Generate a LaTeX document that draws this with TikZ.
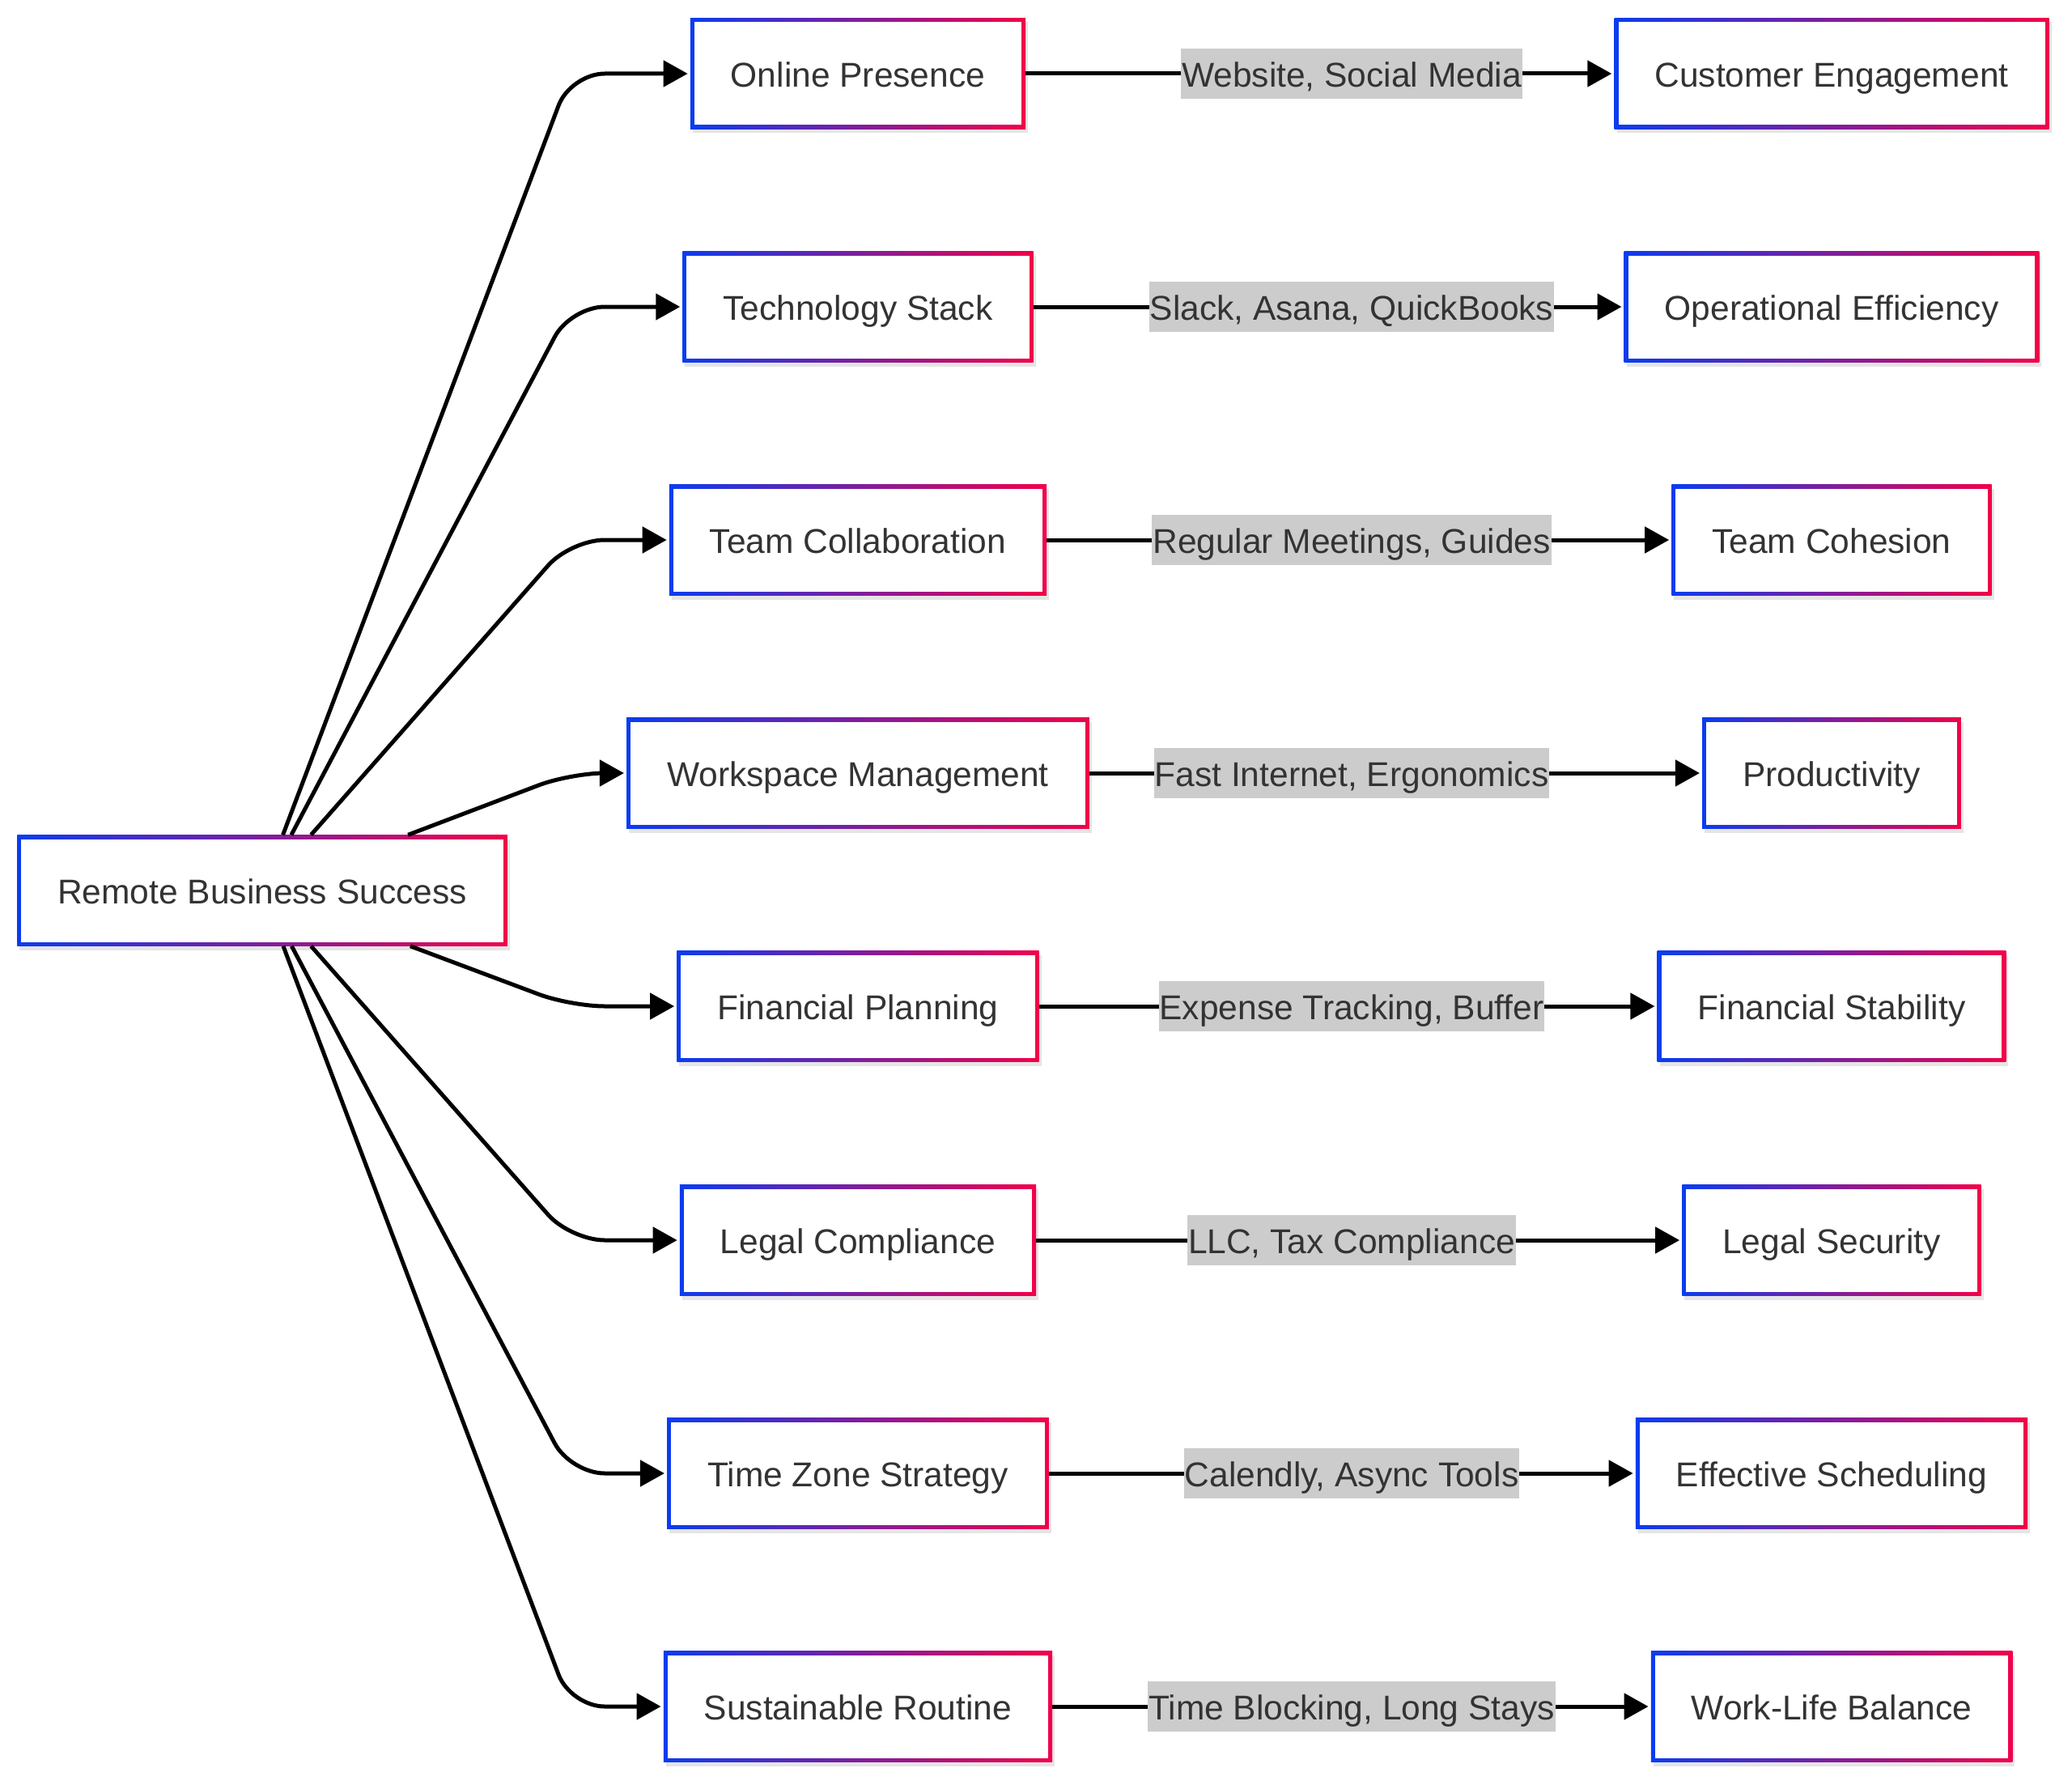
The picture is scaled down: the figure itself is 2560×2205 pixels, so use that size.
\documentclass[tikz,border=0pt]{standalone}
\usepackage{fontspec}
\setmainfont{Liberation Sans}
\usetikzlibrary{arrows.meta,shadows}
\definecolor{gblue}{HTML}{0A3CF0}
\definecolor{gred}{HTML}{F2004A}
\definecolor{txt}{HTML}{333333}
\definecolor{lblbg}{HTML}{CCCCCC}
\tikzset{
  gbox/.style={rectangle, minimum height=137pt, inner xsep=50pt, inner ysep=0pt,
    text height=40pt, text depth=7pt,
    text=txt, font=\fontsize{42.5}{50}\selectfont,
    left color=gblue, right color=gred,
    drop shadow={shadow xshift=3pt, shadow yshift=-5pt, opacity=0.10, fill=black},
    path picture={\fill[white] ([xshift=5pt,yshift=-5pt]path picture bounding box.north west)
      rectangle ([xshift=-5pt,yshift=5pt]path picture bounding box.south east);}},
  lbl/.style={rectangle, fill=lblbg, text=txt, font=\fontsize{42.5}{50}\selectfont,
    text height=40pt, text depth=7pt,
    inner xsep=1pt, inner ysep=0pt, minimum height=62pt},
  conn/.style={line width=5pt, draw=black, -{Triangle[length=30pt,width=32pt]}, shorten >=3pt},
  fan/.style={conn, rounded corners=42pt}
}
\begin{document}
\begin{tikzpicture}[x=1pt,y=-1pt]
\useasboundingbox (0,0) rectangle (2560,2205);
% root
\node[gbox] (root) at (324,1100) {Remote Business Success};
% middle column
\node[gbox] (m1) at (1060,91)   {Online Presence};
\node[gbox] (m2) at (1060,379)  {Technology Stack};
\node[gbox] (m3) at (1060,667)  {Team Collaboration};
\node[gbox] (m4) at (1060,955)  {Workspace Management};
\node[gbox] (m5) at (1060,1243) {Financial Planning};
\node[gbox] (m6) at (1060,1532) {Legal Compliance};
\node[gbox] (m7) at (1060,1820) {Time Zone Strategy};
\node[gbox] (m8) at (1060,2108) {Sustainable Routine};
% right column
\node[gbox] (r1) at (2263,91)   {Customer Engagement};
\node[gbox] (r2) at (2263,379)  {Operational Efficiency};
\node[gbox] (r3) at (2263,667)  {Team Cohesion};
\node[gbox] (r4) at (2263,955)  {Productivity};
\node[gbox] (r5) at (2263,1243) {Financial Stability};
\node[gbox] (r6) at (2263,1532) {Legal Security};
\node[gbox] (r7) at (2263,1820) {Effective Scheduling};
\node[gbox] (r8) at (2263,2108) {Work-Life Balance};
% corner points of the fan
\coordinate (c1) at (705,91);
\coordinate (c2) at (705,379);
\coordinate (c3) at (705,667);
\coordinate (c4) at (705,955);
\coordinate (c5) at (705,1243);
\coordinate (c6) at (705,1532);
\coordinate (c7) at (705,1820);
\coordinate (c8) at (705,2108);
\draw[fan] (root) -- (c1) -- (m1.west);
\draw[fan] (root) -- (c2) -- (m2.west);
\draw[fan] (root) -- (c3) -- (m3.west);
\draw[fan] (root) -- (c4) -- (m4.west);
\draw[fan] (root) -- (c5) -- (m5.west);
\draw[fan] (root) -- (c6) -- (m6.west);
\draw[fan] (root) -- (c7) -- (m7.west);
\draw[fan] (root) -- (c8) -- (m8.west);
% middle to right
\draw[conn] (m1.east) -- (r1.west);
\draw[conn] (m2.east) -- (r2.west);
\draw[conn] (m3.east) -- (r3.west);
\draw[conn] (m4.east) -- (r4.west);
\draw[conn] (m5.east) -- (r5.west);
\draw[conn] (m6.east) -- (r6.west);
\draw[conn] (m7.east) -- (r7.west);
\draw[conn] (m8.east) -- (r8.west);
% labels
\node[lbl] (l1) at (1670,91)   {Website, Social Media};
\node[lbl] (l2) at (1670,379)  {Slack, Asana, QuickBooks};
\node[lbl] (l3) at (1670,667)  {Regular Meetings, Guides};
\node[lbl] (l4) at (1670,955)  {Fast Internet, Ergonomics};
\node[lbl] (l5) at (1670,1243) {Expense Tracking, Buffer};
\node[lbl] (l6) at (1670,1532) {LLC, Tax Compliance};
\node[lbl] (l7) at (1670,1820) {Calendly, Async Tools};
\node[lbl] (l8) at (1670,2108) {Time Blocking, Long Stays};
\end{tikzpicture}
\end{document}
